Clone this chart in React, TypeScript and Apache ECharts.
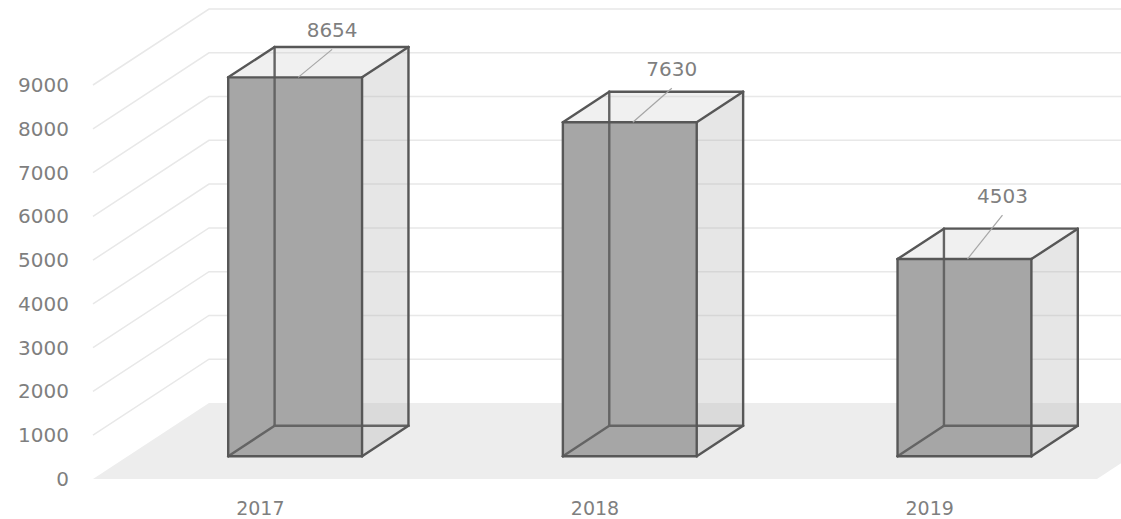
import React, { useEffect, useRef } from "react";
import * as echarts from "echarts";

// ---- data ----
const categories: string[] = ["2017", "2018", "2019"];
const values: number[] = [8654, 7630, 4503];
const yTicks: number[] = [0, 1000, 2000, 3000, 4000, 5000, 6000, 7000, 8000, 9000];
const Y_MIN = 0;
const Y_MAX = 9000;
const Y_STEP = 1000;

// ---- style / layout ----
const DEPTH_X = 116;
const DEPTH_Y = -76;
const BAR_FRONT = 0.3;
const BAR_BACK = 0.7;
const BAR_WIDTH = 0.4;
const LABEL_OFFSETS: number[][] = [
  [37, -47],
  [42, -53],
  [38, -63],
];
const FONT = "DejaVu Sans";
const TEXT_COLOR = "#7f7f7f";

export default function App() {
  const ref = useRef<HTMLDivElement>(null);

  useEffect(() => {
    if (!ref.current) return;
    const chart = echarts.init(ref.current, undefined, { renderer: "svg" });

    const gridRender = (params: any, api: any) => {
      const cs = params.coordSys;
      const v = api.value(1);
      const p = api.coord([0, v]);
      const x0 = cs.x;
      const x1 = cs.x + cs.width;
      const y = p[1];
      if (v === 0) {
        return {
          type: "polygon",
          silent: true,
          shape: {
            points: [
              [x0, y],
              [x0 + DEPTH_X, y + DEPTH_Y],
              [x1 + DEPTH_X, y + DEPTH_Y],
              [x1, y],
            ],
          },
          style: { fill: "#ededed", stroke: "none" },
        };
      }
      return {
        type: "polyline",
        silent: true,
        shape: {
          points: [
            [x0, y],
            [x0 + DEPTH_X, y + DEPTH_Y],
            [x1 + DEPTH_X, y + DEPTH_Y],
          ],
        },
        style: { fill: "none", stroke: "#e8e8e8", lineWidth: 1.5 },
      };
    };

    const barRender = (params: any, api: any) => {
      const i = api.value(0);
      const v = api.value(1);
      const top = api.coord([i, v]);
      const base = api.coord([i, 0]);
      const band = api.size([1, 0])[0];
      const w = band * BAR_WIDTH;
      const fx = top[0] - w / 2 + DEPTH_X * BAR_FRONT;
      const fyT = top[1] + DEPTH_Y * BAR_FRONT;
      const fyB = base[1] + DEPTH_Y * BAR_FRONT;
      const ddx = DEPTH_X * (BAR_BACK - BAR_FRONT);
      const ddy = DEPTH_Y * (BAR_BACK - BAR_FRONT);
      const FLT = [fx, fyT];
      const FRT = [fx + w, fyT];
      const FLB = [fx, fyB];
      const FRB = [fx + w, fyB];
      const BLT = [fx + ddx, fyT + ddy];
      const BRT = [fx + w + ddx, fyT + ddy];
      const BLB = [fx + ddx, fyB + ddy];
      const BRB = [fx + w + ddx, fyB + ddy];
      const edge = (a: number[], b: number[], color: string) => ({
        type: "line",
        shape: { x1: a[0], y1: a[1], x2: b[0], y2: b[1] },
        style: { stroke: color, lineWidth: 2.4, lineCap: "round" },
      });
      const hidden = "#646464";
      const vis = "#575757";
      const off = LABEL_OFFSETS[i] || [38, -55];
      const cx = fx + w / 2;
      const lx = cx + off[0];
      const ly = fyT + off[1];
      return {
        type: "group",
        children: [
          {
            type: "polygon",
            shape: { points: [FRT, BRT, BRB, FRB] },
            style: { fill: "rgba(180,180,180,0.33)", stroke: "none" },
          },
          {
            type: "polygon",
            shape: { points: [FLT, FRT, BRT, BLT] },
            style: { fill: "rgba(200,200,200,0.28)", stroke: "none" },
          },
          {
            type: "rect",
            shape: { x: fx, y: fyT, width: w, height: fyB - fyT },
            style: { fill: "#a6a6a6", stroke: "none" },
          },
          edge(BLT, BLB, hidden),
          edge(BLB, BRB, hidden),
          edge(FLB, BLB, hidden),
          edge(FLT, FRT, vis),
          edge(FRT, FRB, vis),
          edge(FRB, FLB, vis),
          edge(FLB, FLT, vis),
          edge(FLT, BLT, vis),
          edge(BLT, BRT, vis),
          edge(FRT, BRT, vis),
          edge(BRT, BRB, vis),
          edge(FRB, BRB, vis),
          {
            type: "line",
            shape: { x1: cx + 3, y1: fyT, x2: lx, y2: ly + 19 },
            style: { stroke: "#a6a6a6", lineWidth: 1.2 },
          },
          {
            type: "text",
            style: {
              text: String(v),
              x: lx,
              y: ly,
              align: "center",
              verticalAlign: "middle",
              fontSize: 20,
              fontFamily: FONT,
              fill: TEXT_COLOR,
            },
          },
        ],
      };
    };

    chart.setOption({
      animation: false,
      backgroundColor: "#ffffff",
      grid: { left: 93, right: 24, top: 85, bottom: 40, containLabel: false },
      xAxis: {
        type: "category",
        data: categories,
        axisLine: { show: false },
        axisTick: { show: false },
        splitLine: { show: false },
        axisLabel: {
          margin: 20,
          fontSize: 19,
          lineHeight: 17,
          fontFamily: FONT,
          color: TEXT_COLOR,
        },
      },
      yAxis: {
        type: "value",
        min: Y_MIN,
        max: Y_MAX,
        interval: Y_STEP,
        axisLine: { show: false },
        axisTick: { show: false },
        splitLine: { show: false },
        axisLabel: {
          margin: 24,
          fontSize: 20,
          fontFamily: FONT,
          color: TEXT_COLOR,
          formatter: (val: number) => String(val),
        },
      },
      series: [
        {
          type: "custom",
          name: "grid",
          silent: true,
          clip: false,
          z: 1,
          renderItem: gridRender,
          encode: { x: 0, y: 1 },
          data: yTicks.map((t) => [0, t]),
        },
        {
          type: "custom",
          name: "values",
          clip: false,
          z: 2,
          renderItem: barRender,
          encode: { x: 0, y: 1 },
          data: values.map((v, i) => [i, v]),
        },
      ],
    });

    return () => chart.dispose();
  }, []);

  return (
    <div
      ref={ref}
      style={{ position: "absolute", left: 0, top: 0, width: 1121, height: 519, background: "#fff" }}
    />
  );
}
